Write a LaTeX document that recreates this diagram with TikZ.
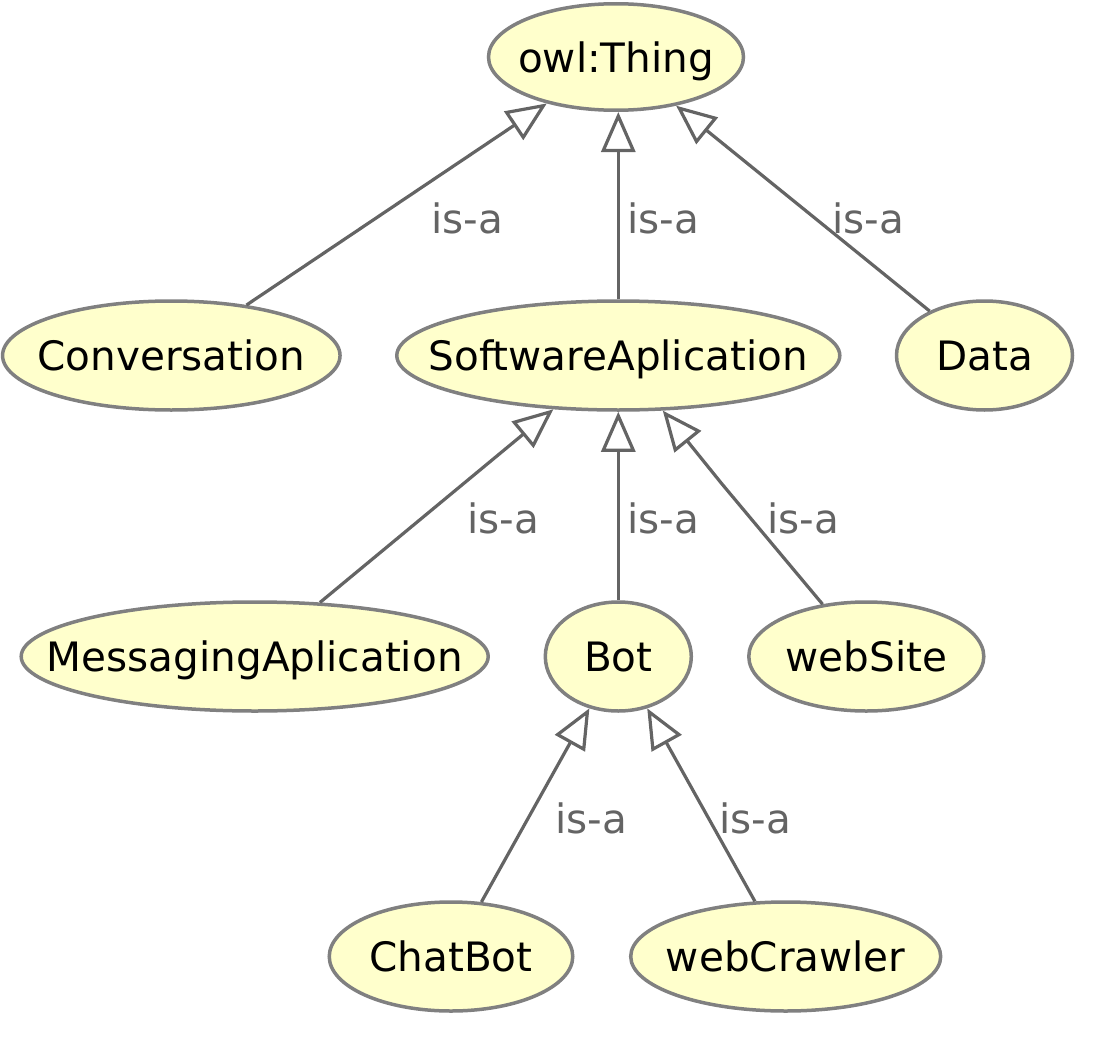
\documentclass[tikz,border=0pt]{standalone}
\usepackage{fontspec}
\setmainfont{DejaVu Sans}
\usetikzlibrary{shapes.geometric,arrows.meta}
\definecolor{nodefill}{HTML}{FFFFCC}
\definecolor{nodeline}{HTML}{808080}
\definecolor{edgeline}{HTML}{646464}
\newcommand{\ctext}[1]{\makebox[0pt]{\raisebox{-0.38em}[0pt][0pt]{#1}}}
\begin{document}
\begin{tikzpicture}[x=1pt,y=-1pt,
  cls/.style={ellipse, draw=nodeline, fill=nodefill, line width=3.5pt, inner sep=0pt,
    minimum height=109pt, font=\fontsize{40.5}{48}\selectfont},
  isa/.style={draw=edgeline, line width=3.2pt, -{Triangle[open,length=40pt,width=34pt]}},
  lbl/.style={text=edgeline, inner sep=0pt, font=\fontsize{40.5}{48}\selectfont}]
\useasboundingbox (0,0) rectangle (1112,1052);
\node[cls, minimum width=255pt, minimum height=106.5pt] (thing) at (616,57) {\ctext{owl:Thing}};
\node[cls, minimum width=337.5pt] (conv) at (171.3,355.5) {\ctext{Conversation}};
\node[cls, minimum width=443pt] (sw) at (618.3,355.5) {\ctext{SoftwareAplication}};
\node[cls, minimum width=176pt] (data) at (984.5,355.5) {\ctext{Data}};
\node[cls, minimum width=467pt] (msg) at (254.7,656.5) {\ctext{MessagingAplication}};
\node[cls, minimum width=146pt] (bot) at (618.3,656.5) {\ctext{Bot}};
\node[cls, minimum width=235pt] (site) at (866.3,656.5) {\ctext{webSite}};
\node[cls, minimum width=243.5pt] (chat) at (451,956.5) {\ctext{ChatBot}};
\node[cls, minimum width=310pt] (crawl) at (785.7,956.5) {\ctext{webCrawler}};
\coordinate (bend) at (722,484);
\draw[isa] (conv) -- (thing);
\draw[isa] (sw.north) -- (sw.north |- thing.south);
\draw[isa] (data) -- (thing);
\draw[isa] (msg) -- (sw);
\draw[isa] (bot.north) -- (bot.north |- sw.south);
\draw[isa] (site) -- (bend) -- (sw);
\draw[isa] (chat) -- (bot);
\draw[isa] (crawl) -- (bot);
\node[lbl] (l1) at (467,218) {is-a};
\node[lbl] (l2) at (663,218) {is-a};
\node[lbl] (l3) at (868,218) {is-a};
\node[lbl] (l4) at (503,518) {is-a};
\node[lbl] (l5) at (663,518) {is-a};
\node[lbl] (l6) at (803,518) {is-a};
\node[lbl] (l7) at (591,818) {is-a};
\node[lbl] (l8) at (755,818) {is-a};
\end{tikzpicture}
\end{document}
